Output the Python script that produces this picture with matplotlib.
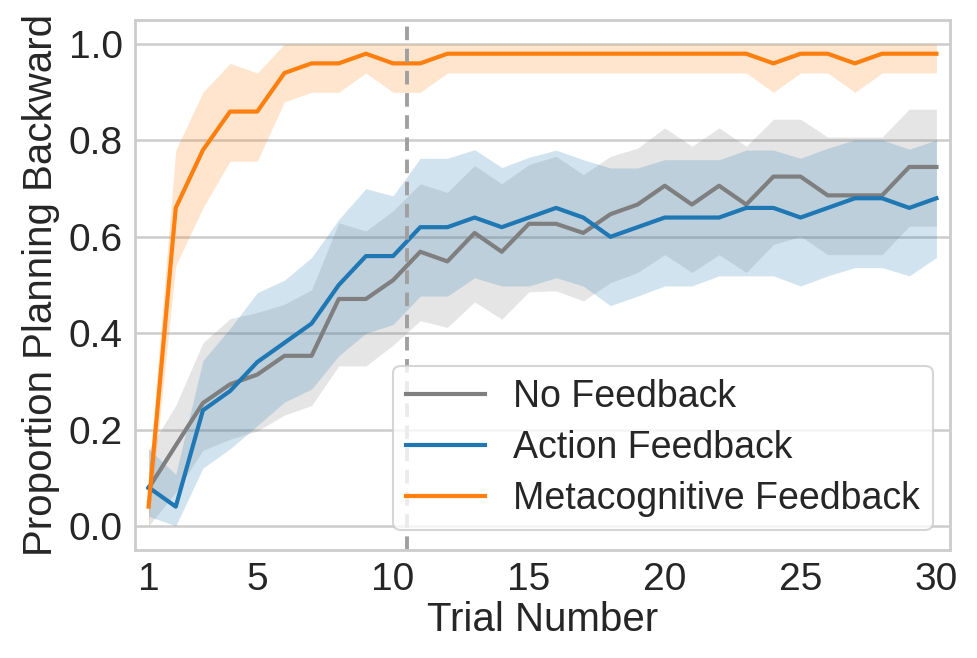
import matplotlib
matplotlib.use('Agg')
import matplotlib.pyplot as plt

trials = list(range(1, 31))

# No Feedback: mean and CI band
no_fb = [0.078, 0.167, 0.255, 0.294, 0.314, 0.353, 0.353, 0.471, 0.471, 0.510,
         0.569, 0.549, 0.608, 0.569, 0.627, 0.627, 0.608, 0.647, 0.667, 0.706,
         0.667, 0.706, 0.667, 0.725, 0.725, 0.686, 0.686, 0.686, 0.745, 0.745]
no_fb_lo = [0.0, 0.07, 0.157, 0.18, 0.197, 0.23, 0.25, 0.332, 0.332, 0.375,
            0.426, 0.412, 0.465, 0.429, 0.486, 0.488, 0.467, 0.505, 0.526, 0.563,
            0.526, 0.563, 0.526, 0.584, 0.601, 0.563, 0.563, 0.563, 0.622, 0.622]
no_fb_hi = [0.157, 0.25, 0.38, 0.43, 0.443, 0.46, 0.49, 0.629, 0.612, 0.654,
            0.71, 0.692, 0.748, 0.71, 0.75, 0.767, 0.729, 0.767, 0.784, 0.826,
            0.788, 0.826, 0.788, 0.844, 0.844, 0.807, 0.807, 0.807, 0.865, 0.865]

# Action Feedback
action = [0.08, 0.04, 0.24, 0.28, 0.34, 0.38, 0.42, 0.50, 0.56, 0.56,
          0.62, 0.62, 0.64, 0.62, 0.64, 0.66, 0.64, 0.60, 0.62, 0.64,
          0.64, 0.64, 0.66, 0.66, 0.64, 0.66, 0.68, 0.68, 0.66, 0.68]
action_lo = [0.02, 0.0, 0.12, 0.16, 0.208, 0.257, 0.284, 0.353, 0.40, 0.418,
             0.477, 0.477, 0.515, 0.498, 0.498, 0.515, 0.498, 0.457, 0.477, 0.498,
             0.498, 0.519, 0.519, 0.519, 0.498, 0.519, 0.536, 0.536, 0.519, 0.557]
action_hi = [0.16, 0.107, 0.343, 0.41, 0.484, 0.51, 0.557, 0.636, 0.70, 0.685,
             0.763, 0.763, 0.781, 0.744, 0.765, 0.78, 0.76, 0.743, 0.743, 0.76,
             0.76, 0.76, 0.78, 0.78, 0.763, 0.784, 0.801, 0.801, 0.782, 0.801]

# Metacognitive Feedback
meta = [0.04, 0.66, 0.78, 0.86, 0.86, 0.94, 0.96, 0.96, 0.98, 0.96,
        0.96, 0.98, 0.98, 0.98, 0.98, 0.98, 0.98, 0.98, 0.98, 0.98,
        0.98, 0.98, 0.98, 0.96, 0.98, 0.98, 0.96, 0.98, 0.98, 0.98]
meta_lo = [0.0, 0.54, 0.66, 0.757, 0.757, 0.88, 0.90, 0.90, 0.94, 0.90,
           0.90, 0.94, 0.94, 0.94, 0.94, 0.94, 0.94, 0.94, 0.94, 0.94,
           0.94, 0.94, 0.94, 0.90, 0.94, 0.94, 0.90, 0.94, 0.94, 0.94]
meta_hi = [0.10, 0.78, 0.90, 0.96, 0.94, 1.0, 1.0, 1.0, 1.0, 1.0,
           1.0, 1.0, 1.0, 1.0, 1.0, 1.0, 1.0, 1.0, 1.0, 1.0,
           1.0, 1.0, 1.0, 1.0, 1.0, 1.0, 1.0, 1.0, 1.0, 1.0]

xticks = [1, 5, 10, 15, 20, 25, 30]
yticks = [0.0, 0.2, 0.4, 0.6, 0.8, 1.0]

plt.rcParams['font.family'] = ['Liberation Sans', 'DejaVu Sans']

fig = plt.figure(figsize=(9.77, 6.58), dpi=100)
ax = fig.add_axes([135 / 977, 1 - 550 / 658, 815 / 977, 530 / 658])

series = [
    ('No Feedback', no_fb, no_fb_lo, no_fb_hi, '#7f7f7f'),
    ('Action Feedback', action, action_lo, action_hi, '#1f77b4'),
    ('Metacognitive Feedback', meta, meta_lo, meta_hi, '#ff7f0e'),
]
for name, m, lo, hi, c in series:
    ax.fill_between(trials, lo, hi, color=c, alpha=0.2, linewidth=0)
    ax.plot(trials, m, color=c, lw=3, label=name)

ax.axvline(10.5, color='#a0a0a0', ls='--', lw=2.8, dashes=(3.5, 2.2))

ax.set_xlim(0.5, 30.5)
ax.set_ylim(-0.05, 1.05)
ax.set_xticks(xticks)
ax.set_yticks(yticks)
ax.set_yticklabels(['%.1f' % v for v in yticks])
ax.grid(axis='y', color='#cccccc', lw=1.8)
ax.set_axisbelow(True)
for s in ax.spines.values():
    s.set_color('#cccccc')
    s.set_linewidth(2)
ax.tick_params(length=0, pad=9, labelcolor='#262626', labelsize=28)
ax.set_xlabel('Trial Number', fontsize=29, color='#262626', labelpad=2)
ax.set_ylabel('Proportion Planning Backward', fontsize=29, color='#262626', labelpad=6)

leg = ax.legend(loc='lower right', fontsize=27, frameon=True, handlelength=2.1,
                borderpad=0.35, labelspacing=0.4, handletextpad=0.75,
                borderaxespad=0, bbox_to_anchor=(0.979, 0.038))
leg.get_frame().set_edgecolor('#cccccc')
leg.get_frame().set_linewidth(1.5)
for t in leg.get_texts():
    t.set_color('#262626')

fig.savefig('out.png', dpi=100)
